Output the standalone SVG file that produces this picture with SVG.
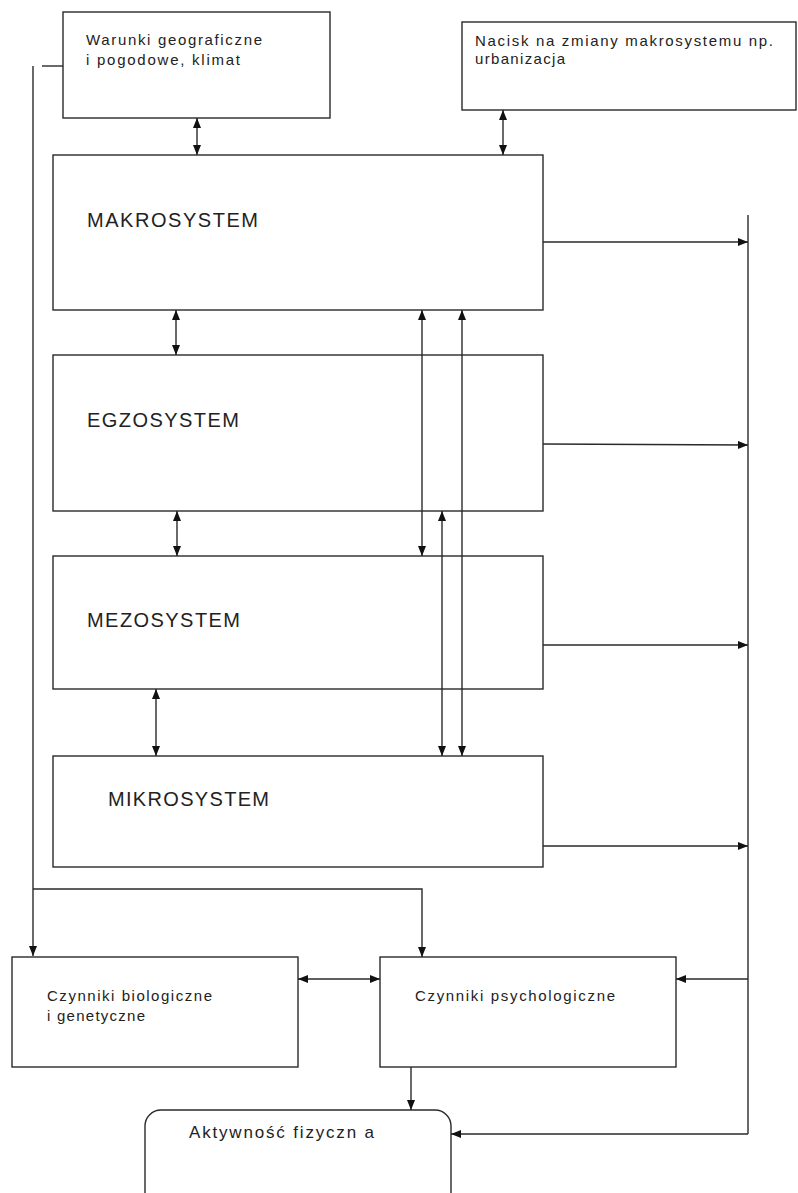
<svg xmlns="http://www.w3.org/2000/svg" width="798" height="1193" viewBox="0 0 798 1193">
<style>
.box{fill:#fff;stroke:#2a2a2a;stroke-width:1.4}
.ln{fill:none;stroke:#2a2a2a;stroke-width:1.4}
.s{font-family:"Liberation Sans",Arial,sans-serif;font-size:15px;fill:#222}
.b{font-family:"Liberation Sans",Arial,sans-serif;font-size:20px;fill:#222}
.a{marker-end:url(#ah)}
.d{marker-start:url(#ah);marker-end:url(#ah)}
</style>
<defs>
<marker id="ah" markerUnits="userSpaceOnUse" markerWidth="10" markerHeight="8" refX="10" refY="4" orient="auto-start-reverse">
<path d="M0,0 L10,4 L0,8 z" fill="#111"/>
</marker>
</defs>
<rect width="798" height="1193" fill="#fff"/>
<g id="warunki">
<rect class="box" x="63" y="12" width="267" height="106"/>
<text class="s" x="86" y="45" textLength="176" lengthAdjust="spacing">Warunki geograficzne</text>
<text class="s" x="86" y="65" textLength="154" lengthAdjust="spacing">i pogodowe, klimat</text>
</g>
<g id="nacisk">
<rect class="box" x="462" y="22" width="334" height="88"/>
<text class="s" x="475" y="46" textLength="298" lengthAdjust="spacing">Nacisk na zmiany makrosystemu np.</text>
<text class="s" x="475" y="64" textLength="90" lengthAdjust="spacing">urbanizacja</text>
</g>
<g id="makrosystem">
<rect class="box" x="53" y="155" width="490" height="155"/>
<text class="b" x="87" y="227" textLength="171" lengthAdjust="spacing">MAKROSYSTEM</text>
</g>
<g id="egzosystem">
<rect class="box" x="53" y="355" width="490" height="156"/>
<text class="b" x="87" y="427" textLength="152" lengthAdjust="spacing">EGZOSYSTEM</text>
</g>
<g id="mezosystem">
<rect class="box" x="53" y="556" width="490" height="133"/>
<text class="b" x="87" y="627" textLength="153" lengthAdjust="spacing">MEZOSYSTEM</text>
</g>
<g id="mikrosystem">
<rect class="box" x="53" y="756" width="490" height="111"/>
<text class="b" x="108" y="806" textLength="161" lengthAdjust="spacing">MIKROSYSTEM</text>
</g>
<g id="biologiczne">
<rect class="box" x="12" y="957" width="286" height="110"/>
<text class="s" x="47" y="1001" textLength="165" lengthAdjust="spacing">Czynniki biologiczne</text>
<text class="s" x="47" y="1021" textLength="98" lengthAdjust="spacing">i genetyczne</text>
</g>
<g id="psychologiczne">
<rect class="box" x="380" y="957" width="296" height="110"/>
<text class="s" x="415" y="1001" textLength="200" lengthAdjust="spacing">Czynniki psychologiczne</text>
</g>
<g id="aktywnosc">
<rect class="box" x="145" y="1110" width="306" height="110" rx="16" ry="16"/>
<text class="s" x="189" y="1138" style="font-size:17px" textLength="185" lengthAdjust="spacing">Aktywność fizyczn a</text>
</g>
<g id="connectors">
<path class="ln d" d="M197,118 V155"/>
<path class="ln d" d="M503,110 V155"/>
<path class="ln d" d="M176,310 V355"/>
<path class="ln d" d="M177,511 V556"/>
<path class="ln d" d="M156,689 V756"/>
<path class="ln d" d="M422,310 V556"/>
<path class="ln d" d="M462,310 V756"/>
<path class="ln d" d="M442,511 V756"/>
<path class="ln a" d="M543,242 H748"/>
<path class="ln a" d="M543,444 L748,445"/>
<path class="ln a" d="M543,645 H748"/>
<path class="ln a" d="M543,846 H748"/>
<path class="ln" d="M748,215 V1134"/>
<path class="ln" d="M42,66 H63"/>
<path class="ln a" d="M33,66 V956"/>
<path class="ln a" d="M33,889 H422 V957"/>
<path class="ln d" d="M298,979 H380"/>
<path class="ln a" d="M748,979 H676"/>
<path class="ln a" d="M411,1067 V1110"/>
<path class="ln a" d="M748,1134 H451"/>
</g>
</svg>
